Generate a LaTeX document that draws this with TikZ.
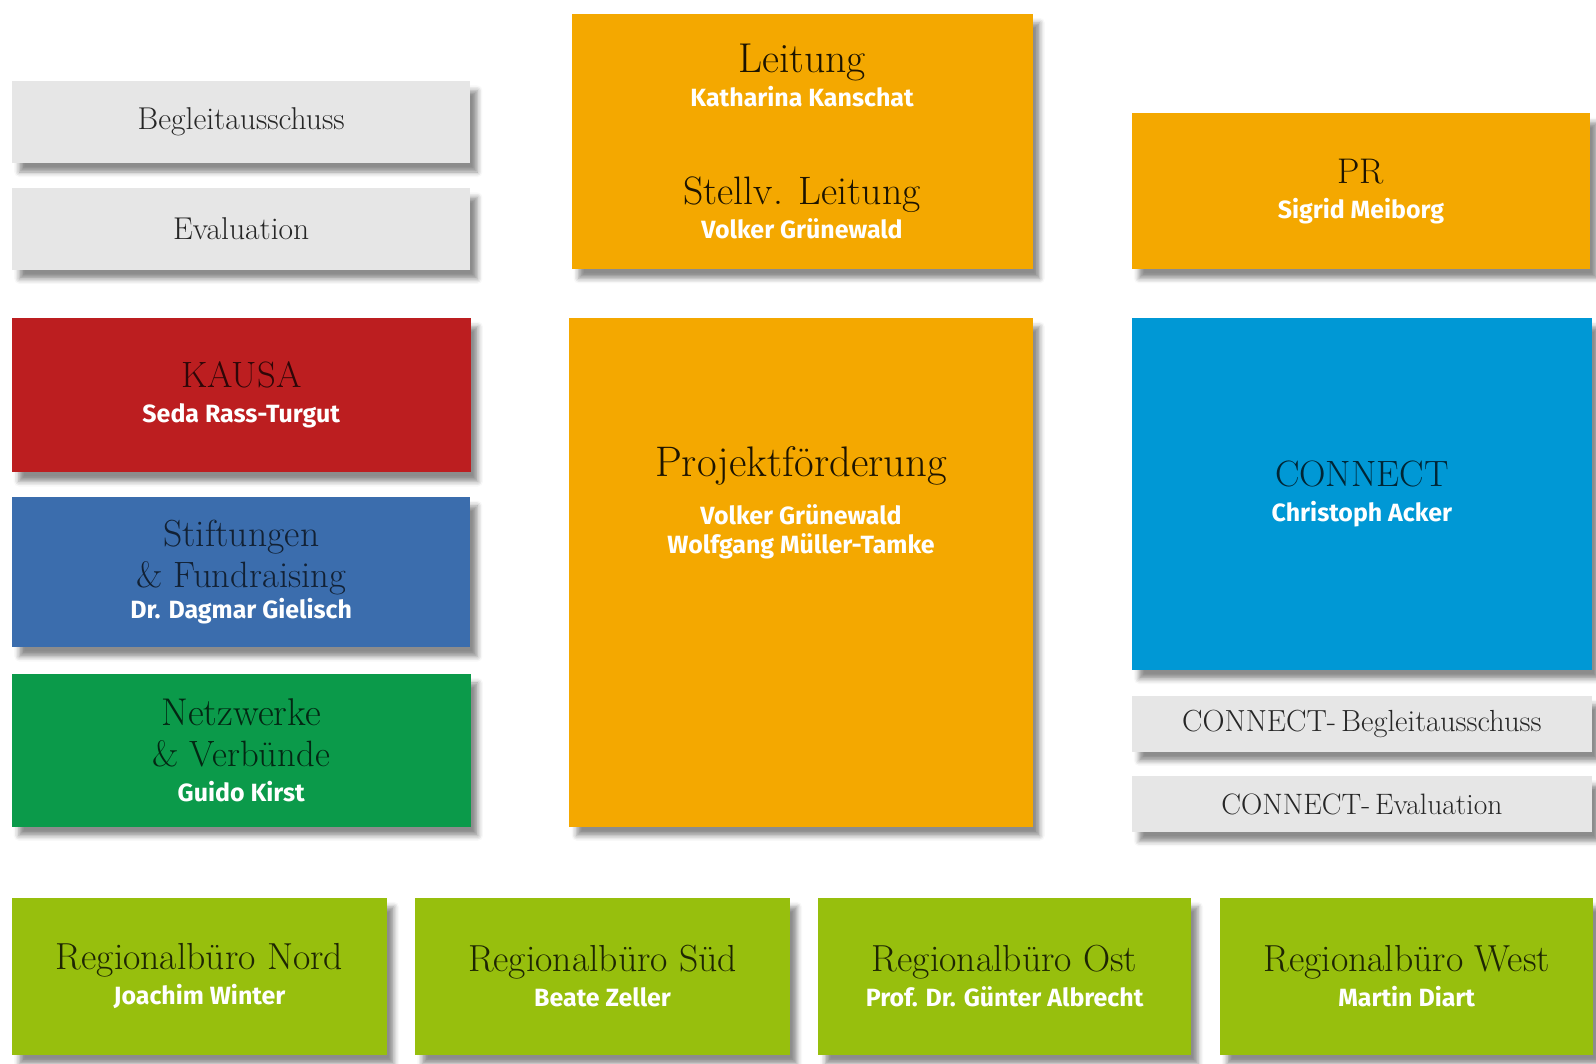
\documentclass[tikz,border=0pt]{standalone}
\usepackage{fontspec}
\newfontfamily\namefont{Fira Sans}
\usetikzlibrary{shadows.blur}
\definecolor{grau}{HTML}{E6E6E6}
\definecolor{orange}{HTML}{F4A800}
\definecolor{rot}{HTML}{BC1E20}
\definecolor{blau}{HTML}{3B6DAD}
\definecolor{gruen}{HTML}{0B9A4A}
\definecolor{cyan}{HTML}{0098D5}
\definecolor{lime}{HTML}{97BF0D}
\newcommand{\tfont}[1]{\fontsize{#1}{34}\selectfont}
\newcommand{\nfont}{\namefont\bfseries\fontsize{24.5}{34}\selectfont\color{white}}
\begin{document}
\begin{tikzpicture}[x=1pt, y=-1pt,
	orgbox/.style={rectangle, inner sep=0pt, align=center, font={\tfont{37}}, blur shadow={shadow xshift=7pt, shadow yshift=-9pt, shadow blur radius=5pt, shadow opacity=45}},
	graubox/.style={orgbox, fill=grau, text=black!85},
	orangebox/.style={orgbox, fill=orange, text=black!70!orange!40!black},
	regbox/.style={orgbox, fill=lime, text=lime!20!black, minimum height=154}]
	\useasboundingbox (0,0) rectangle (1568,1045.3);
	\node[graubox, minimum width=450, minimum height=80, font={\tfont{31}}] (begleit) at (237,120) {Begleitausschuss};
	\node[graubox, minimum width=450, minimum height=80, font={\tfont{31}}] (eval) at (237,225) {Evaluation};
	\node[orangebox, minimum width=453, minimum height=251] (leitung) at (788,139) {\tfont{41}Leitung\\ \nfont Katharina Kanschat\\[62pt] \tfont{39}Stellv. Leitung\\ \nfont Volker Grünewald};
	\node[orangebox, minimum width=450, minimum height=153] (pr) at (1337,188) {\tfont{35}PR\\ \nfont Sigrid Meiborg};
	\node[orgbox, fill=rot, text=rot!25!black, minimum width=451, minimum height=152] (kausa) at (237,388) {\tfont{36}KAUSA\\ \nfont Seda Rass-Turgut};
	\node[orgbox, fill=blau, text=blau!30!black, minimum width=450, minimum height=148] (stift) at (237,562) {\tfont{37}Stiftungen\\[6pt] \tfont{36}\& Fundraising\\[-4pt] \nfont Dr. Dagmar Gielisch};
	\node[orgbox, fill=gruen, text=gruen!25!black, minimum width=451, minimum height=150] (netz) at (237,737) {\tfont{38}Netzwerke\\[6pt] \tfont{36}\& Verbünde\\ \nfont Guido Kirst};
	\node[orangebox, minimum width=455, minimum height=500] (projekt) at (787,562) {};
	\node[align=center, font={\tfont{42}}, text=black!70!orange!40!black] (projekt-text) at (787,494) {Projektförderung\\[13pt] \nfont Volker Grünewald\\[-6pt] \nfont Wolfgang Müller-Tamke};
	\node[orgbox, fill=cyan, text=cyan!25!black, minimum width=452, minimum height=346] (connect) at (1338,485) {\tfont{36}CONNECT\\ \nfont Christoph Acker};
	\node[graubox, minimum width=452, minimum height=55, font={\tfont{30}}] (cbegleit) at (1338,711) {CONNECT-\,Begleitausschuss};
	\node[graubox, minimum width=452, minimum height=55, font={\tfont{29}}] (ceval) at (1338,790) {CONNECT-\,Evaluation};
	\node[regbox, minimum width=368] (nord) at (196,959) {Regionalbüro Nord\\ \nfont Joachim Winter};
	\node[regbox, minimum width=368] (sued) at (592,959) {Regionalbüro Süd\\ \nfont Beate Zeller};
	\node[regbox, minimum width=366] (ost) at (987,959) {Regionalbüro Ost\\ \nfont Prof. Dr. Günter Albrecht};
	\node[regbox, minimum width=367] (west) at (1382,959) {Regionalbüro West\\ \nfont Martin Diart};
\end{tikzpicture}
\end{document}
